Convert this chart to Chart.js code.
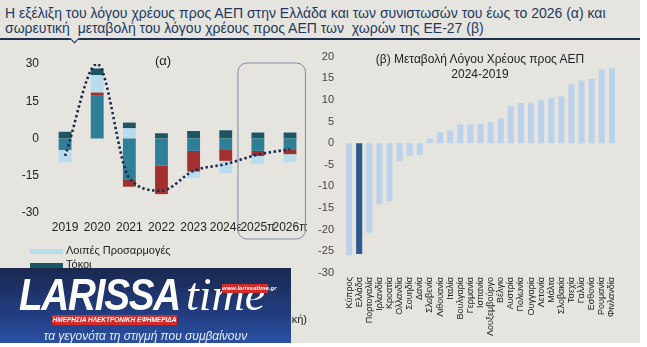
<!DOCTYPE html>
<html>
<head>
<meta charset="utf-8">
<script src="https://cdn.jsdelivr.net/npm/chart.js@4.4.1/dist/chart.umd.min.js"></script>
<style>
  html, body { margin:0; padding:0; background:#fff; }
  #page { position:relative; width:640px; height:343px; background:#e6e4df; overflow:hidden; font-family:"Liberation Sans", Arial, sans-serif; }
  #title { position:absolute; left:5px; top:6px; font-size:14px; line-height:15px; color:#22395f; white-space:nowrap; }
  #rule { position:absolute; left:0; top:38px; width:640px; height:2px; background:#1f3050; }
  #notch { position:absolute; left:71px; top:35px; width:6px; height:6px; border-right:1.5px solid #1f3050; border-bottom:1.5px solid #1f3050; background:#e6e4df; transform:rotate(45deg); }
  #left { position:absolute; left:0; top:40px; }
  #right { position:absolute; left:310px; top:40px; }
  #alpha { position:absolute; left:155px; top:53px; font-size:13px; color:#222; }
  #btitle { position:absolute; left:340px; top:52px; width:280px; text-align:center; font-size:12px; line-height:15px; color:#222; white-space:nowrap; }
  .leg { position:absolute; font-size:11px; color:#222; white-space:nowrap; }
  .leg i { display:inline-block; width:33px; height:5px; vertical-align:middle; margin-right:3px; }
  #logo { position:absolute; left:0; top:268px; width:291px; height:79px; background:linear-gradient(#1b2850, #223e82 60%, #2c54a8); overflow:hidden; color:#fff; }
</style>
</head>
<body>
<div id="page">
  <div id="title">Η εξέλιξη του λόγου χρέους προς ΑΕΠ στην Ελλάδα και των συνιστωσών του έως το 2026 (α) και<br>σωρευτική &nbsp;μεταβολή του λόγου χρέους προς ΑΕΠ των &nbsp;χωρών της ΕΕ-27 (β)</div>
  <div id="rule"></div>
  <div id="notch"></div>
  <canvas id="left" width="315" height="205"></canvas>
  <canvas id="right" width="330" height="303"></canvas>
  <div id="alpha">(α)</div>
  <div id="btitle">(β) Μεταβολή Λόγου Χρέους προς ΑΕΠ<br>2024-2019</div>
  <div id="legend"></div>
  <div id="logo">
    <div style="position:absolute;left:19px;top:1px;font:italic 900 45px 'Liberation Sans';letter-spacing:-1.5px;transform:scaleX(0.86);transform-origin:left;">LARISSA</div>
    <div style="position:absolute;left:186px;top:0px;font:italic 46px 'Liberation Serif';">time</div>
    <div style="position:absolute;left:222px;top:16px;width:46px;height:9px;background:#d42a2a;font:italic bold 6px 'Liberation Sans';line-height:9px;text-align:center;">www.larissatime.gr</div>
    <div style="position:absolute;left:52px;top:47px;width:125px;height:10px;background:#d42a2a;font:italic bold 6.5px 'Liberation Sans';line-height:10px;text-align:center;">ΗΜΕΡΗΣΙΑ ΗΛΕΚΤΡΟΝΙΚΗ ΕΦΗΜΕΡΙΔΑ</div>
    <div style="position:absolute;left:0;top:61px;width:291px;text-align:center;font:italic 12px 'Liberation Sans';color:#e8eefc;">τα γεγονότα τη στιγμή που συμβαίνουν</div>
  </div>
</div>

<script>
// ---- (α) Ελλάδα: συνιστώσες μεταβολής λόγου χρέους ----
const years = ['2019','2020','2021','2022','2023','2024ε','2025π','2026π'];
const growthEffect  = [-4.6, 17.5, -16.7, -11.0, -5.0, -4.3, -5.0, -4.3];
const primaryEffect = [0, 1.0, -2.7, -11.4, -8.3, -4.7, -2.0, -2.0];
const otherAdj      = [-5.0, 7.0, 4.1, 0, -2.7, -5.0, -3.3, -3.3];
const interest      = [2.7, 2.7, 2.3, 2.1, 3.0, 3.3, 2.4, 2.4];
const totalChange   = [-7.0, 30.0, -16.0, -21.0, -13.0, -10.3, -6.5, -4.3];
const leftTicks = [30, 15, 0, -15, -30];

// ---- (β) ΕΕ-27: μεταβολή 2024-2019 ----
const countries = ['Κύπρος','Ελλάδα','Πορτογαλία','Ιρλανδία','Κροατία','Ολλανδία','Σουηδία','Δανία','Σλοβενία','Λιθουανία','Ιταλία','Βουλγαρία','Γερμανία','Ισπανία','Λουξεμβούργο','Βέλγιο','Αυστρία','Πολωνία','Ουγγαρία','Λετονία','Μάλτα','Σλοβακία','Τσεχία','Γαλλία','Εσθονία','Ρουμανία','Φινλανδία'];
const debtChange = [-25.9, -25.6, -20.7, -14.1, -13.5, -4.2, -2.9, -2.7, 1.1, 2.5, 2.9, 4.3, 4.3, 4.5, 4.9, 5.7, 8.6, 9.3, 9.3, 10.0, 10.4, 10.8, 13.6, 14.4, 14.8, 17.0, 17.3];

const C = { teal:'#2f7f98', red:'#a3302f', light:'#b8dcee', dark:'#1d5663', line:'#1c2c4e' };
const FONT = "'Liberation Sans', Arial, sans-serif";

// rounded box round 2025π-2026π
const boxPlugin = {
  id:'box',
  afterDatasetsDraw(chart){
    const x = chart.scales.x, y = chart.scales.y, ctx = chart.ctx;
    const step = x.getPixelForValue(1) - x.getPixelForValue(0);
    const l = x.getPixelForValue(6) - step*0.62, r = x.getPixelForValue(7) + step*0.48;
    const t = y.getPixelForValue(30) - 1, b = chart.chartArea.bottom + 26;
    ctx.save();
    ctx.strokeStyle = '#7d8ba3'; ctx.lineWidth = 1;
    ctx.beginPath(); ctx.roundRect(l, t, r-l, b-t, 9); ctx.stroke();
    ctx.restore();
  }
};

new Chart(document.getElementById('left'), {
  data:{
    labels: years,
    datasets:[
      { type:'line', label:'Μεταβολή χρέους (συνολική)', data: totalChange, borderColor:C.line, borderWidth:2.6,
        borderDash:[2.4,2.6], pointRadius:0, cubicInterpolationMode:'monotone', stack:'total' },
      { type:'bar', label:'Επίδραση ονομαστικού ΑΕΠ', data: growthEffect, backgroundColor:C.teal, stack:'s' },
      { type:'bar', label:'Πρωτογενές αποτέλεσμα', data: primaryEffect, backgroundColor:C.red, stack:'s' },
      { type:'bar', label:'Λοιπές Προσαρμογές', data: otherAdj, backgroundColor:C.light, stack:'s' },
      { type:'bar', label:'Τόκοι', data: interest, backgroundColor:C.dark, stack:'s' }
    ]
  },
  options:{
    responsive:false, animation:false,
    layout:{ padding:{ top:24, right:8, bottom:6, left:0 } },
    datasets:{ bar:{ barPercentage:0.4, categoryPercentage:1 } },
    plugins:{ legend:{ display:false }, tooltip:{ enabled:false } },
    scales:{
      x:{ stacked:true, grid:{ display:false, drawTicks:false }, border:{ display:false },
          ticks:{ color:'#222', font:{ family:FONT, size:12 }, padding:7, maxRotation:0, autoSkip:false },
          afterFit(s){ s.height = 26; } },
      y:{ stacked:true, min:-30, max:30, grid:{ display:false, drawTicks:false }, border:{ display:false },
          afterBuildTicks(s){ s.ticks = leftTicks.map(v => ({ value:v })); },
          ticks:{ color:'#222', font:{ family:FONT, size:12 }, padding:10 },
          afterFit(s){ s.width = 49; } }
    }
  },
  plugins:[boxPlugin]
});

new Chart(document.getElementById('right'), {
  type:'bar',
  data:{
    labels: countries,
    datasets:[{ data: debtChange, backgroundColor: countries.map(c => c === 'Ελλάδα' ? '#2c5a8d' : '#bcd2ea'),
                barPercentage:0.6, categoryPercentage:1 }]
  },
  options:{
    responsive:false, animation:false,
    layout:{ padding:{ top:11, right:23, bottom:0, left:0 } },
    plugins:{ legend:{ display:false }, tooltip:{ enabled:false } },
    scales:{
      x:{ grid:{ display:false, drawTicks:false }, border:{ display:false },
          ticks:{ color:'#222', font:{ family:FONT, size:9 }, padding:4, minRotation:90, maxRotation:90, autoSkip:false },
          afterFit(s){ s.height = 70; } },
      y:{ min:-30, max:20, grid:{ display:false, drawTicks:false }, border:{ display:false },
          ticks:{ stepSize:5, color:'#444', font:{ family:FONT, size:11 }, padding:10 },
          afterFit(s){ s.width = 34; } }
    }
  }
});

// legend (bottom left, mostly covered by the logo)
const legendItems = [
  ['Λοιπές Προσαρμογές', C.light, 30, 244],
  ['Τόκοι', C.dark, 30, 258],
  ['Επίδραση ονομαστικού ΑΕΠ', C.teal, 30, 272],
  ['Πρωτογενές αποτέλεσμα', C.red, 30, 286]
];
const leg = document.getElementById('legend');
legendItems.forEach(([t, col, x, y]) => {
  const d = document.createElement('div');
  d.className = 'leg'; d.style.left = x+'px'; d.style.top = y+'px';
  d.innerHTML = '<i style="background:'+col+'"></i>' + t;
  leg.appendChild(d);
});
const tot = document.createElement('div');
tot.className = 'leg'; tot.style.right = (640-307)+'px'; tot.style.top = '313px';
tot.textContent = '····· Μεταβολή λόγου χρέους (συνολική)';
leg.appendChild(tot);
</script>
</body>
</html>
